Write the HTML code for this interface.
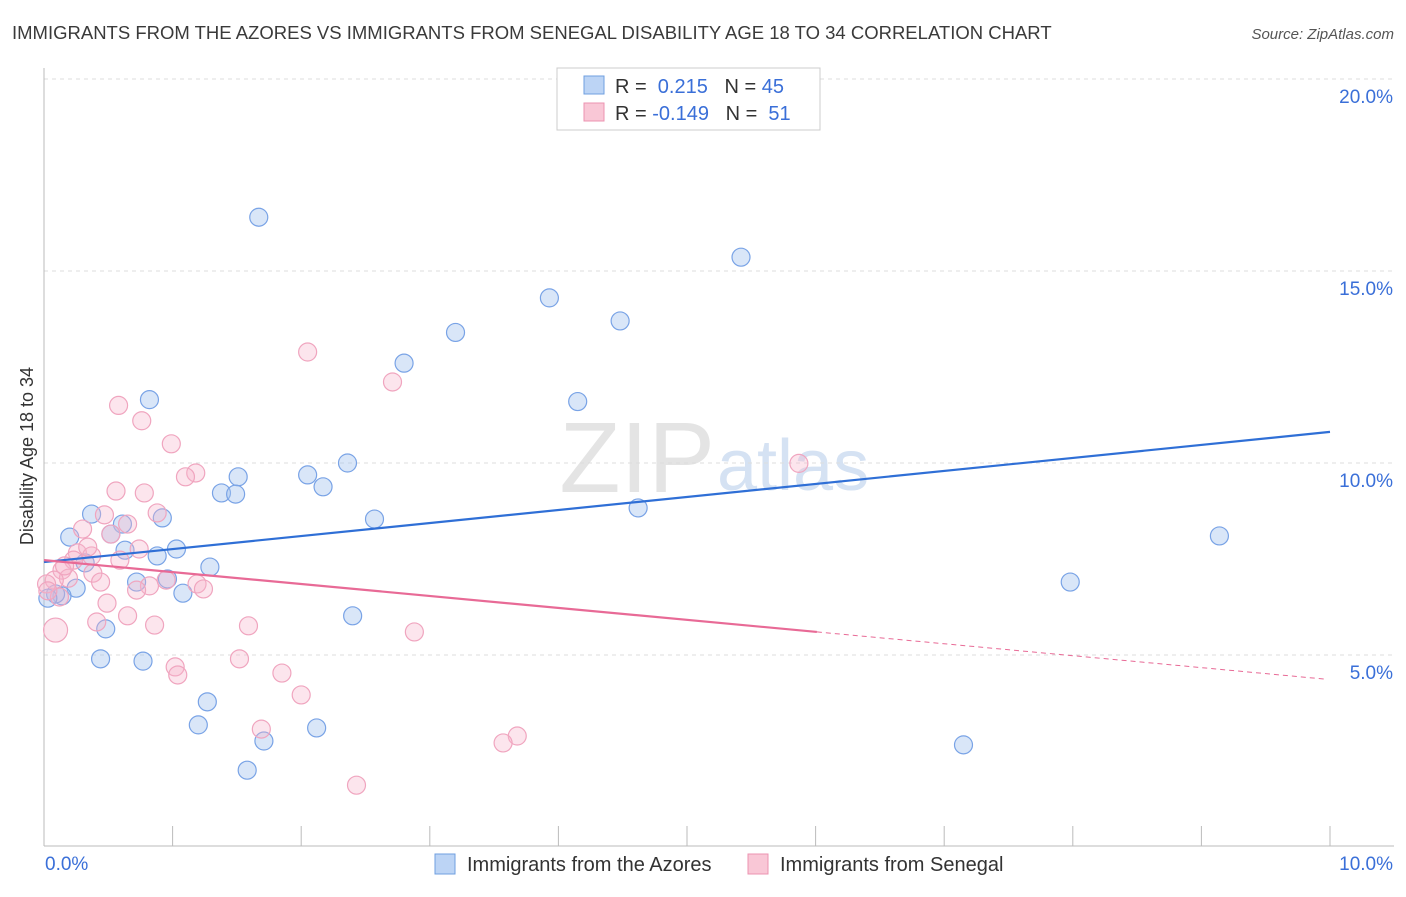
<!DOCTYPE html>
<html><head><meta charset="utf-8"><style>
body{margin:0;background:#fff;font-family:"Liberation Sans",sans-serif}
svg text{font-family:"Liberation Sans",sans-serif}
</style></head><body>
<svg id="chart" width="1406" height="892" xmlns="http://www.w3.org/2000/svg">
<text x="12" y="39" font-size="18.5" fill="#3a3a3a">IMMIGRANTS FROM THE AZORES VS IMMIGRANTS FROM SENEGAL DISABILITY AGE 18 TO 34 CORRELATION CHART</text>
<text x="1394" y="39" font-size="15" font-style="italic" fill="#555" text-anchor="end">Source: ZipAtlas.com</text>
<text x="715" y="492" font-size="100" fill="#e4e4e4" text-anchor="end" font-family="Liberation Serif">ZIP</text>
<text x="717" y="490" font-size="72" fill="#d5e2f3">atlas</text>
<text transform="translate(33,456) rotate(-90)" font-size="18" fill="#333" text-anchor="middle">Disability Age 18 to 34</text>
<g id="grid"></g><g id="pts"></g><g id="lines"></g>
<g>
<rect x="557" y="68" width="263" height="62" fill="#fff" stroke="#ccc"/>
<rect x="584" y="76" width="20" height="18" fill="#bcd4f5" stroke="#6f9fe0"/>
<rect x="584" y="103" width="20" height="18" fill="#f9c7d6" stroke="#ec93b0"/>
<text x="615" y="93" font-size="20" fill="#333">R = <tspan fill="#3a6fd8">&#160;0.215</tspan>&#160;&#160;&#160;N = <tspan fill="#3a6fd8">45</tspan></text>
<text x="615" y="120" font-size="20" fill="#333">R = <tspan fill="#3a6fd8">-0.149</tspan>&#160;&#160;&#160;N = <tspan fill="#3a6fd8">&#160;51</tspan></text>
</g>
<g>
<rect x="435" y="854" width="20" height="20" fill="#bcd4f5" stroke="#6f9fe0"/>
<text x="467" y="871" font-size="20" fill="#333">Immigrants from the Azores</text>
<rect x="748" y="854" width="20" height="20" fill="#f9c7d6" stroke="#ec93b0"/>
<text x="780" y="871" font-size="20" fill="#333">Immigrants from Senegal</text>
</g>
</svg>
<script>
const yTicks=[5,10,15,20];
const yTickLabels=["5.0%","10.0%","15.0%","20.0%"];
const xTickLabels=["0.0%","10.0%"];
const blueX=[1.67,5.42,3.93,4.48,3.2,2.8,4.15,0.82,2.36,1.51,2.05,2.17,1.38,1.49,2.57,4.62,0.37,0.92,0.61,0.2,0.52,0.63,1.03,0.88,0.32,1.29,0.72,0.96,0.25,1.08,0.14,0.09,0.03,0.48,2.4,0.44,0.77,1.27,1.2,2.12,1.71,1.58,7.15,7.98,9.14];
const blueY=[16.4,15.36,14.3,13.7,13.4,12.6,11.6,11.65,10.0,9.64,9.69,9.38,9.22,9.19,8.54,8.83,8.67,8.57,8.41,8.07,8.15,7.73,7.76,7.58,7.4,7.29,6.9,6.98,6.74,6.61,6.54,6.59,6.48,5.68,6.02,4.9,4.84,3.78,3.18,3.1,2.76,2.0,2.66,6.9,8.1];
const pinkX=[2.05,2.71,0.58,0.76,0.99,1.18,1.1,0.56,0.78,0.47,0.88,0.65,0.3,0.52,0.26,0.37,0.74,0.23,0.14,0.38,0.19,0.44,0.08,0.02,0.82,0.72,0.95,1.19,1.24,0.12,0.49,0.41,0.65,0.86,0.09,1.59,2.88,1.52,1.02,1.04,1.85,2.0,1.69,3.68,3.57,2.43,5.87,0.03,0.16,0.59,0.34];
const pinkY=[12.89,12.11,11.5,11.1,10.5,9.74,9.64,9.27,9.22,8.65,8.7,8.41,8.28,8.15,7.66,7.58,7.76,7.47,7.21,7.13,7.0,6.9,6.95,6.85,6.8,6.69,6.95,6.85,6.72,6.51,6.35,5.86,6.02,5.78,5.65,5.76,5.6,4.9,4.69,4.48,4.53,3.96,3.07,2.89,2.71,1.61,9.99,6.67,7.32,7.47,7.81];
const pinkR=[9,9,9,9,9,9,9,9,9,9,9,9,9,9,9,9,9,9,9,9,9,9,9,9,9,9,9,9,9,9,9,9,9,9,12,9,9,9,9,9,9,9,9,9,9,9,9,9,9,9,9];
const blueLine=[7.42,10.81];
const pinkLine=[7.47,-0.311];
const xs=v=>44+v*128.6, ys=v=>847-v*38.4;
const NS="http://www.w3.org/2000/svg";
function mk(tag,attrs,parent){const e=document.createElementNS(NS,tag);for(const k in attrs)e.setAttribute(k,attrs[k]);parent.appendChild(e);return e;}
const grid=document.getElementById('grid');
yTicks.forEach((t,i)=>{
 const l=mk('line',{x1:44,x2:1394,y1:ys(t),y2:ys(t),stroke:'#ddd','stroke-dasharray':'4,4'},grid);
 
 
 const tx=mk('text',{x:1393,y:ys(t)+24,'font-size':19,fill:'#3a6fd8','text-anchor':'end'},grid);
 tx.textContent=yTickLabels[i];
 
 
});
const topGrid=mk('line',{x1:44,x2:1394,y1:79,y2:79,stroke:'#ddd','stroke-dasharray':'4,4'},grid);


const ya=mk('line',{x1:44,x2:44,y1:68,y2:846,stroke:'#bbb'},grid);


const xa=mk('line',{x1:44,x2:1394,y1:846,y2:846,stroke:'#bbb'},grid);


for(let i=0;i<=10;i++){const t=mk('line',{x1:xs(i),x2:xs(i),y1:826,y2:846,stroke:'#bbb'},grid);
 
 }
[[0,'start',45],[10,'end',1393]].forEach((p,i)=>{const t=mk('text',{x:p[2],y:870,'font-size':19,fill:'#3a6fd8','text-anchor':p[1]},grid);t.textContent=xTickLabels[i];
 
 });
const pts=document.getElementById('pts');
blueX.forEach((x,i)=>{const c=mk('circle',{cx:xs(x),cy:ys(blueY[i]),r:9,fill:'rgba(160,192,238,0.4)',stroke:'#79a3e6','stroke-width':1.2},pts);
 
 });
pinkX.forEach((x,i)=>{const c=mk('circle',{cx:xs(x),cy:ys(pinkY[i]),r:pinkR[i],fill:'rgba(247,180,202,0.35)',stroke:'#f0a5bf','stroke-width':1.2},pts);
 
 });
const lines=document.getElementById('lines');
const bl=mk('line',{x1:xs(0),y1:ys(blueLine[0]),x2:xs(10),y2:ys(blueLine[1]),stroke:'#2f6fd6','stroke-width':2.2},lines);


const pl=mk('line',{x1:xs(0),y1:ys(pinkLine[0]),x2:xs(6.01),y2:ys(pinkLine[0]+pinkLine[1]*6.01),stroke:'#e86a96','stroke-width':2.2},lines);


const pd=mk('line',{x1:xs(6.01),y1:ys(pinkLine[0]+pinkLine[1]*6.01),x2:xs(9.96),y2:ys(pinkLine[0]+pinkLine[1]*9.96),stroke:'#e86a96','stroke-width':1,'stroke-dasharray':'5,4'},lines);


</script>
</body></html>
